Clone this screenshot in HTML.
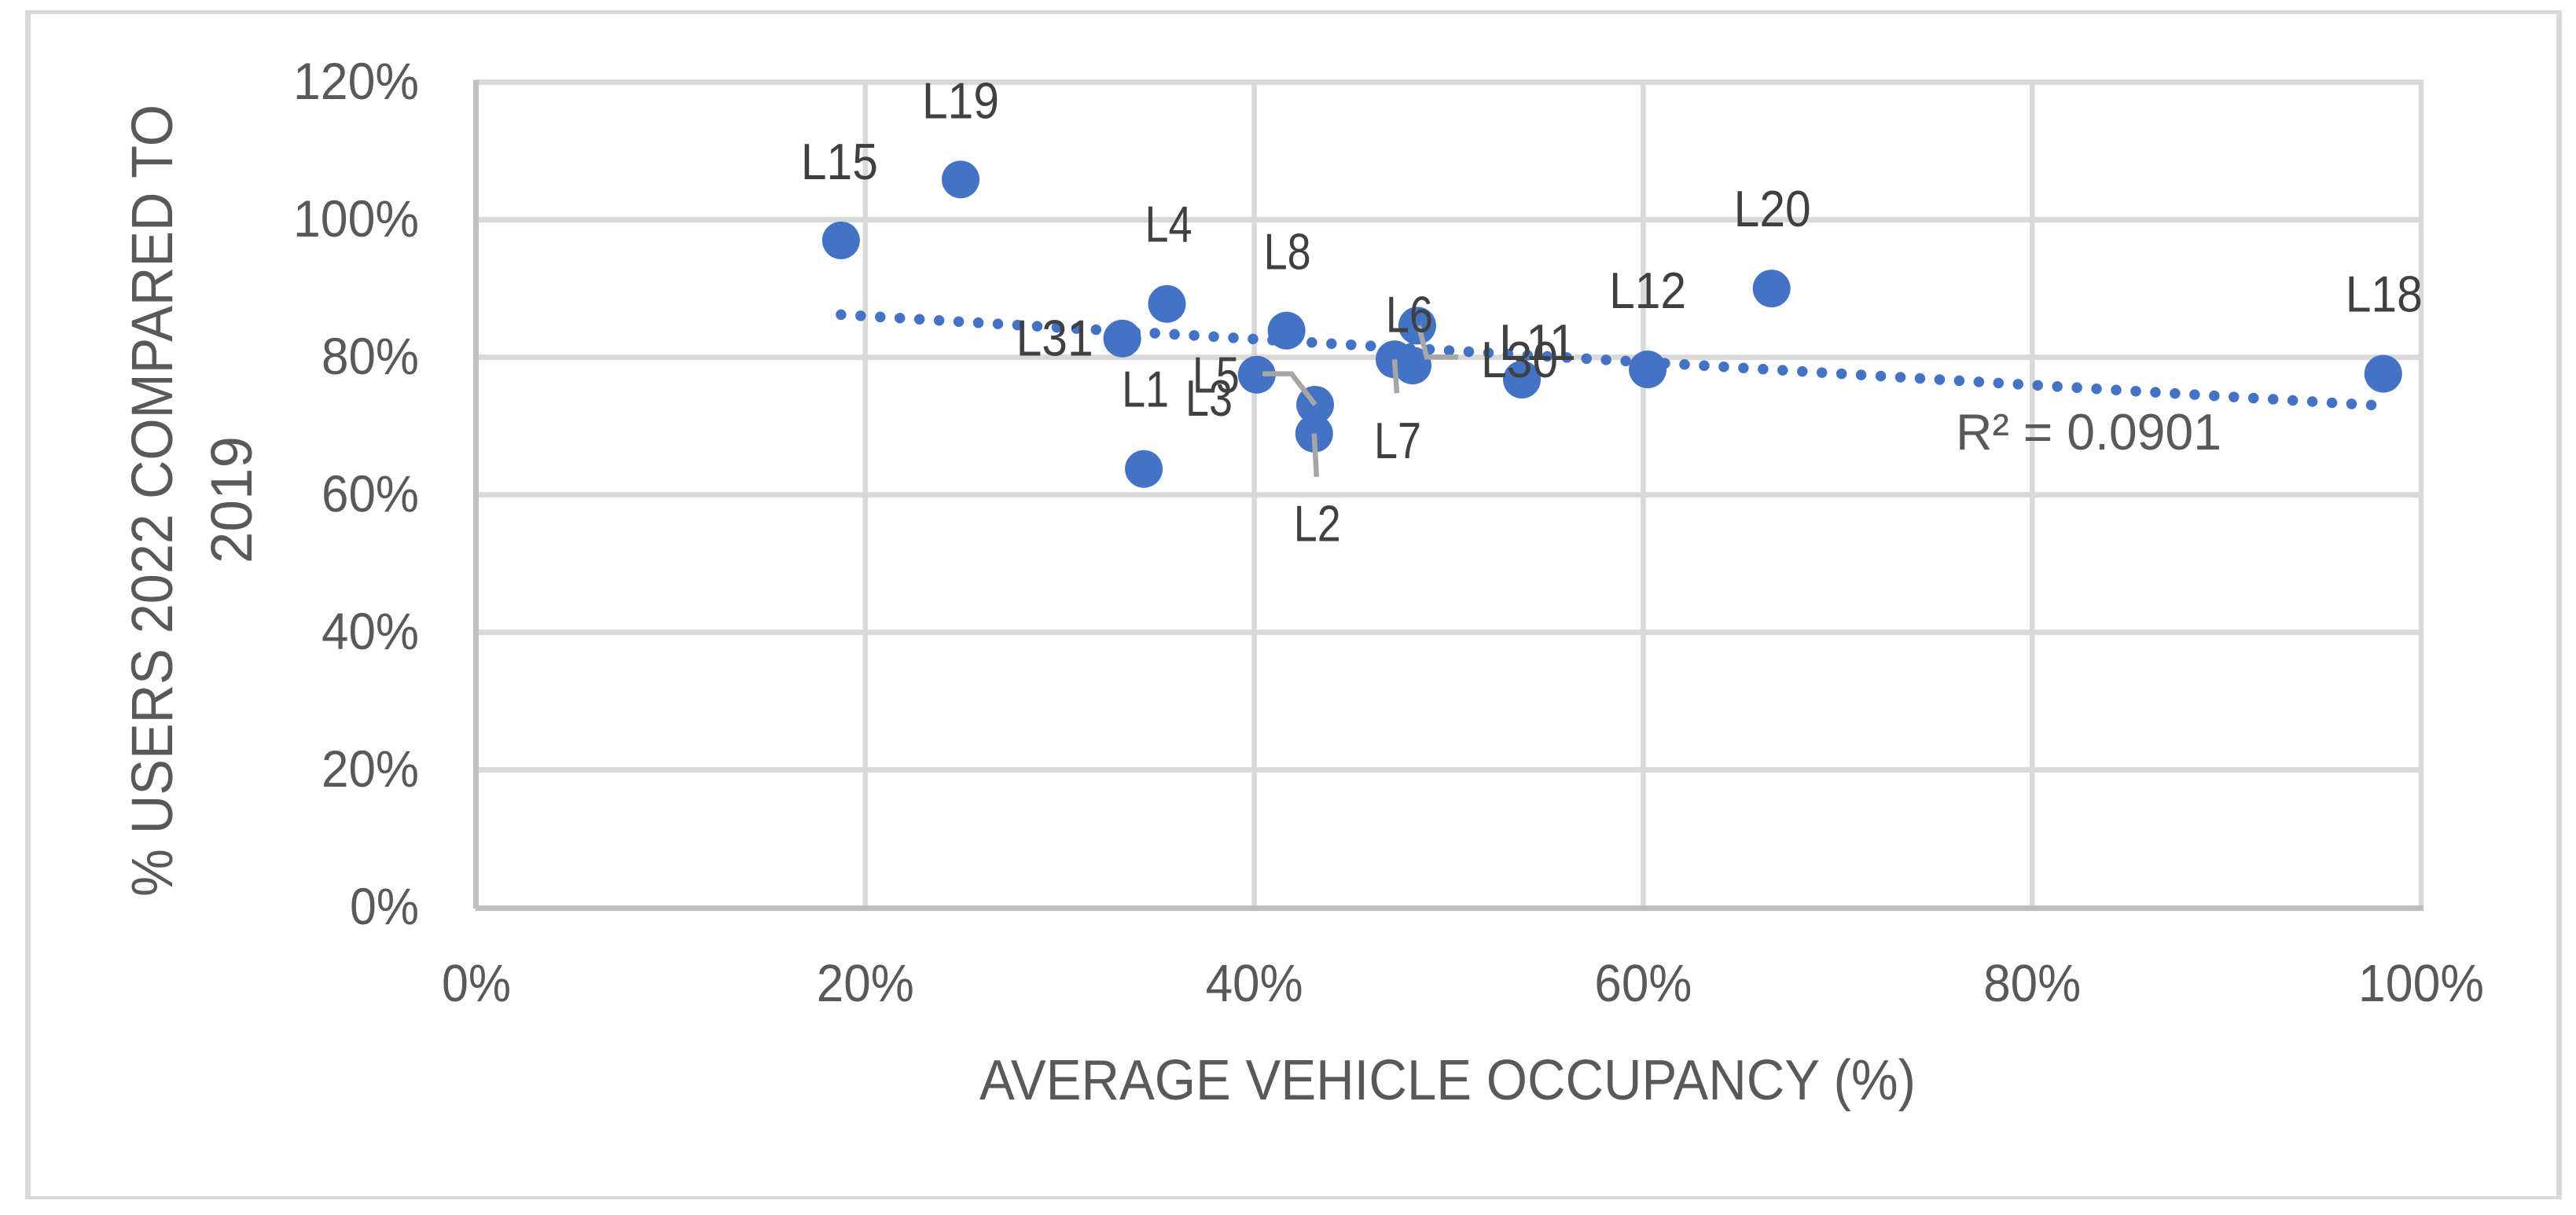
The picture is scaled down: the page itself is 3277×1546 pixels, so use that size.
<!DOCTYPE html>
<html lang="en">
<head>
<meta charset="utf-8">
<title>Users vs vehicle occupancy</title>
<style>
  html, body { margin: 0; padding: 0; background: #ffffff; }
  body { width: 3277px; height: 1546px; overflow: hidden; }
  svg { display: block; }
  text { font-family: "Liberation Sans", sans-serif; }
</style>
</head>
<body>
<svg id="chart" width="3277" height="1546" viewBox="0 0 3277 1546" xmlns="http://www.w3.org/2000/svg">
  <rect x="0" y="0" width="3277" height="1546" fill="#ffffff"/>
  <path fill="#d9d9d9" fill-rule="evenodd" d="M32 13H3259V1526H32Z M39 18V1522H3252V18Z"/>
  <g id="grid"></g>
  <g id="axes"></g>
  <g id="ticks"></g>
  <g id="trend"></g>
  <g id="points"></g>
  <g id="leaders"></g>
  <g id="labels"></g>
  <text x="2488" y="572" font-size="65" fill="#595959" textLength="338" lengthAdjust="spacingAndGlyphs">R² = 0.0901</text>
  <text x="1246" y="1399" font-size="72" fill="#595959" textLength="1191" lengthAdjust="spacingAndGlyphs">AVERAGE VEHICLE OCCUPANCY (%)</text>
  <text transform="translate(219,1141) rotate(-90)" font-size="74" fill="#595959" textLength="1008" lengthAdjust="spacingAndGlyphs">% USERS 2022 COMPARED TO</text>
  <text transform="translate(320,717) rotate(-90)" font-size="74" fill="#595959" textLength="162" lengthAdjust="spacingAndGlyphs">2019</text>
</svg>
<script>
// Chart data
const pointNames = ["L1","L2","L3","L4","L5","L6","L7","L8","L11","L12","L15","L18","L19","L20","L30","L31"];
const occupancyValues = [0.3432,0.4308,0.4313,0.3551,0.4013,0.4838,0.4721,0.4166,0.4814,0.6023,0.1875,0.9805,0.2490,0.6660,0.5376,0.3321];
const usersValues = [0.6376,0.6890,0.7310,0.8776,0.7747,0.8460,0.7970,0.8388,0.7880,0.7824,0.9700,0.7760,1.0586,0.9000,0.7675,0.8273];
const xTickValues = [0,20,40,60,80,100];
const yTickValues = [0,20,40,60,80,100,120];

// Layout, kept apart from the data
const plot = { x0: 606, x100: 3080, y0: 1154.6, y120: 104.6 };
const labelOffset = {
  L1:[2,-79], L2:[4,137], L3:[-135,14], L4:[2,-79], L5:[-52,23], L6:[-10,8], L7:[4,126], L8:[1,-78],
  L11:[159,-7], L12:[0,-78], L15:[-2,-78], L18:[1,-79], L19:[0,-78], L20:[1,-79], L30:[-3,-3], L31:[-86,22]
};
const leaderOffset = {
  L3:[[-67,-39.3],[-30,-39.3],[0,0]],
  L2:[[0,0],[3,55]],
  L7:[[0,0],[3,43]],
  L6:[[2,0],[12,40],[52,40]]
};
const NS = "http://www.w3.org/2000/svg";

function xScale(v) { return plot.x0 + (plot.x100 - plot.x0) * v; }
function yScale(v) { return plot.y0 - (plot.y0 - plot.y120) * v / 1.2; }
function tickWidth(t) { return t >= 100 ? 160 : (t >= 10 ? 124 : 88); }
function make(tag, attrs, parent) {
  const el = document.createElementNS(NS, tag);
  for (const k in attrs) el.setAttribute(k, attrs[k]);
  parent.appendChild(el);
  return el;
}

const grid = document.getElementById("grid");
const axes = document.getElementById("axes");
const ticks = document.getElementById("ticks");
const trend = document.getElementById("trend");
const points = document.getElementById("points");
const leaders = document.getElementById("leaders");
const labels = document.getElementById("labels");

// Gridlines and tick labels
yTickValues.forEach(function (t) {
  const y = yScale(t / 100);
  if (t > 0) {
    const line = make("line", { x1: plot.x0, x2: plot.x100 + 3, y1: y, y2: y, stroke: "#d9d9d9", "stroke-width": 7 }, grid);
    
    
  }
  const width = tickWidth(t);
  const label = make("text", { x: 533 - width, y: y + 21.5, "font-size": 66, fill: "#595959", textLength: width, lengthAdjust: "spacingAndGlyphs" }, ticks);
  label.textContent = t + "%";
  
  
});
xTickValues.forEach(function (t) {
  const x = xScale(t / 100);
  if (t > 0) {
    const line = make("line", { x1: x, x2: x, y1: yScale(1.2) - 3, y2: plot.y0, stroke: "#d9d9d9", "stroke-width": 6.5 }, grid);
    
    
  }
  const width = tickWidth(t);
  const label = make("text", { x: x - width / 2, y: 1274, "font-size": 67, fill: "#595959", textLength: width, lengthAdjust: "spacingAndGlyphs" }, ticks);
  label.textContent = t + "%";
  
  
});

// Axis lines
const yAxisLine = make("line", { x1: plot.x0 - 0.5, x2: plot.x0 - 0.5, y1: yScale(1.2) - 3, y2: plot.y0 + 1.5, stroke: "#bfbfbf", "stroke-width": 7 }, axes);


const xAxisLine = make("line", { x1: plot.x0 - 1, x2: plot.x100 + 3, y1: plot.y0 + 1, y2: plot.y0 + 1, stroke: "#bfbfbf", "stroke-width": 7 }, axes);



// Least-squares trendline through the data
const n = occupancyValues.length;
const meanX = occupancyValues.reduce(function (a, b) { return a + b; }, 0) / n;
const meanY = usersValues.reduce(function (a, b) { return a + b; }, 0) / n;
let sxy = 0, sxx = 0;
for (let i = 0; i < n; i++) {
  sxy += (occupancyValues[i] - meanX) * (usersValues[i] - meanY);
  sxx += (occupancyValues[i] - meanX) * (occupancyValues[i] - meanX);
}
const slope = sxy / sxx;
const minX = Math.min.apply(null, occupancyValues);
const maxX = Math.max.apply(null, occupancyValues);
const trendLine = make("line", {
  x1: xScale(minX), y1: yScale(meanY + slope * (minX - meanX)),
  x2: xScale(maxX), y2: yScale(meanY + slope * (maxX - meanX)),
  stroke: "#4472c4", "stroke-width": 13.5, "stroke-linecap": "round", "stroke-dasharray": "0 25"
}, trend);



// Points, leaders and labels
pointNames.forEach(function (name, i) {
  const cx = xScale(occupancyValues[i]);
  const cy = yScale(usersValues[i]);
  const dot = make("circle", { cx: cx, cy: cy, r: 24, fill: "#4472c4" }, points);
  
  

  if (leaderOffset[name]) {
    const pts = leaderOffset[name].map(function (p) { return (cx + p[0]) + "," + (cy + p[1]); }).join(" ");
    const leader = make("polyline", { points: pts, fill: "none", stroke: "#a6a6a6", "stroke-width": 6.5 }, leaders);
    
    
  }

  const off = labelOffset[name];
  const width = name.length > 2 ? 98 : 60;
  const label = make("text", { x: cx + off[0] - width / 2, y: cy + off[1], "font-size": 65, fill: "#404040", textLength: width, lengthAdjust: "spacingAndGlyphs" }, labels);
  label.textContent = name;
  
  
});
</script>
</body>
</html>
